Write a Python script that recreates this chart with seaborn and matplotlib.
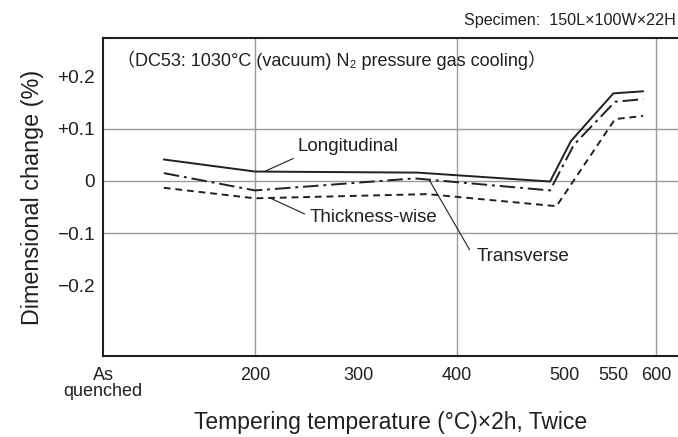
import numpy as np
import pandas as pd
import matplotlib
matplotlib.use("Agg")
import matplotlib.pyplot as plt
import seaborn as sns

# ---- data ----
# x: tempering temperature (°C); 80 stands for the "As quenched" point
long_x = [80, 200, 360, 487, 507, 550, 585]
long_y = [0.041, 0.018, 0.016, -0.001, 0.076, 0.167, 0.171]
trans_x = [80, 200, 357, 487, 510, 552, 585]
trans_y = [0.015, -0.018, 0.005, -0.018, 0.069, 0.151, 0.156]
thick_x = [80, 200, 370, 493, 552, 585]
thick_y = [-0.013, -0.033, -0.025, -0.048, 0.118, 0.124]

tick_temps = [0, 200, 300, 400, 500, 550, 600]
tick_labels = ["As\nquenched", "200", "300", "400", "500", "550", "600"]
ytick_vals = [0.2, 0.1, 0, -0.1, -0.2]
ytick_labels = ["+0.2", "+0.1", "0", "\u22120.1", "\u22120.2"]

# piecewise axis mapping (the original x axis is not strictly linear)
scale_T = np.array([0, 200, 300, 400, 500, 550, 600, 700], dtype=float)
scale_P = np.array([0, 152, 255.7, 353.7, 461, 510.3, 553, 638], dtype=float)

def fwd(t):
    return np.interp(t, scale_T, scale_P)

def inv(p):
    return np.interp(p, scale_P, scale_T)

df = pd.concat([
    pd.DataFrame({"T": long_x, "d": long_y, "dir": "Longitudinal"}),
    pd.DataFrame({"T": trans_x, "d": trans_y, "dir": "Transverse"}),
    pd.DataFrame({"T": thick_x, "d": thick_y, "dir": "Thickness-wise"}),
], ignore_index=True)

sns.set_style("white")
plt.rcParams["font.family"] = ["Liberation Sans", "Noto Sans CJK JP", "DejaVu Sans"]

ink = "#231f20"
grid_c = "#9a9a9a"

fig = plt.figure(figsize=(6.78, 4.37), dpi=100)
ax = fig.add_axes([103 / 678, (437 - 355.7) / 437, 1 - 103 / 678, (355.7 - 38.3) / 437])
ax.set_xscale("function", functions=(fwd, inv))

sns.lineplot(data=df, x="T", y="d", style="dir", ax=ax, color=ink,
             dashes={"Longitudinal": "", "Transverse": (8, 2.5, 1.5, 2.5),
                     "Thickness-wise": (3.5, 2.5)},
             estimator=None, sort=False, legend=False, linewidth=1.4)

ax.set_xlim(0, inv(575))
ax.set_ylim(-0.333, 0.272)

# grid lines
for v in [200, 400, 600]:
    ax.axvline(v, color=grid_c, lw=1.0, zorder=0)
for v in [0.1, 0, -0.1]:
    ax.axhline(v, color=grid_c, lw=1.0, zorder=0)

ax.set_xticks(tick_temps)
ax.set_xticklabels(tick_labels, fontsize=13, color=ink, linespacing=0.95)
ax.set_yticks(ytick_vals)
ax.set_yticklabels(ytick_labels, fontsize=13.8, color=ink)
ax.tick_params(axis="x", direction="in", length=7, width=1.0, color=grid_c, pad=8)
ax.tick_params(axis="y", direction="in", length=7, width=1.0, color=grid_c, pad=6)

for s in ["left", "bottom", "top"]:
    ax.spines[s].set_color(ink)
    ax.spines[s].set_linewidth(1.5)
ax.spines["right"].set_visible(False)

ax.set_xlabel("Tempering temperature (\u00b0C)\u00d72h, Twice", fontsize=16.5,
              color=ink, labelpad=8)
ax.set_ylabel("Dimensional change (%)", fontsize=16.8, color=ink, labelpad=9)

# annotations
tk = dict(fontsize=13.5, color=ink, ha="left", va="center")
lk = dict(arrowstyle="-", color=ink, lw=0.8, shrinkA=0, shrinkB=0)
ax.text(241, 0.066, "Longitudinal", **tk)
ax.annotate("", xy=(209, 0.018), xytext=(237, 0.043), arrowprops=lk)
ax.text(253, -0.069, "Thickness-wise", **tk)
ax.annotate("", xy=(214, -0.032), xytext=(248, -0.063), arrowprops=lk)
ax.text(419, -0.143, "Transverse", **tk)
ax.annotate("", xy=(372, 0.002), xytext=(412, -0.131), arrowprops=lk)

ax.text(19, 0.231, "\uff08DC53: 1030\u00b0C (vacuum) N\u2082 pressure gas cooling\uff09",
        fontsize=13, color=ink, ha="left", va="center")
fig.text(676 / 678, 1 - 20 / 437, "Specimen:  150L\u00d7100W\u00d722H", fontsize=11.6,
         color=ink, ha="right", va="center")

fig.savefig("out.png", dpi=100)
